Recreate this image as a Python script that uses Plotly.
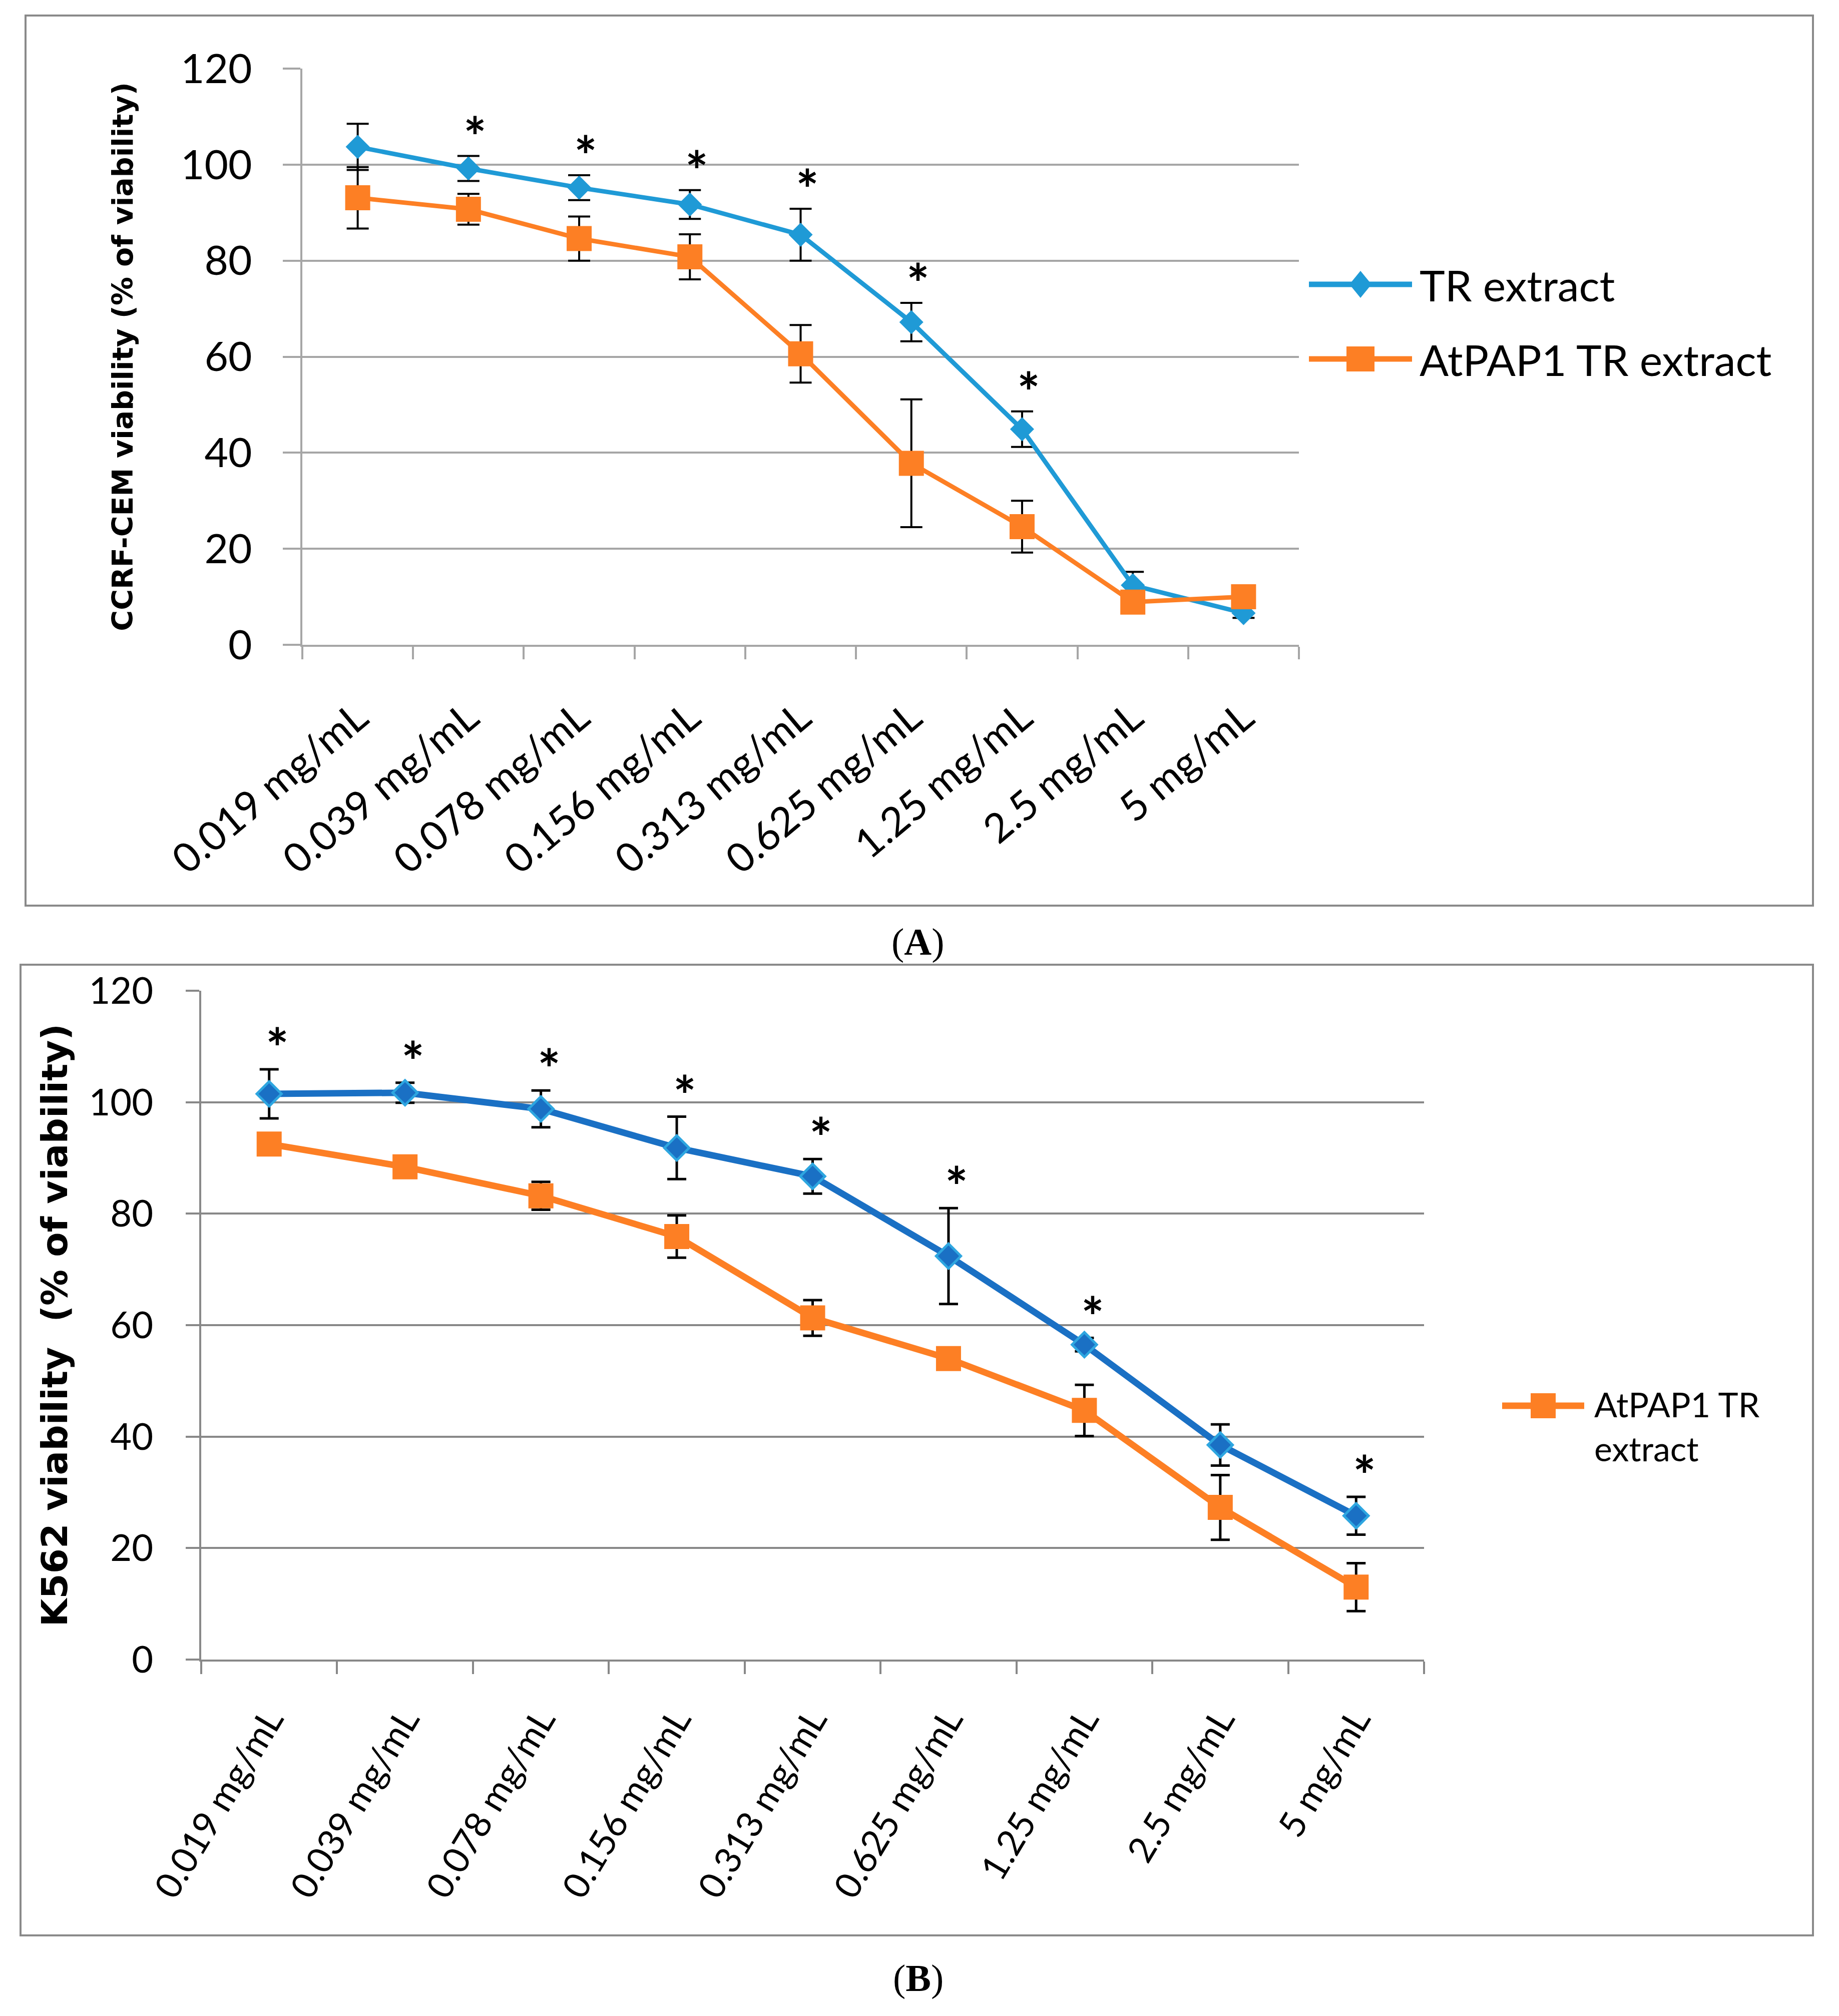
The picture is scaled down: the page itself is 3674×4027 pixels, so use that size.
import plotly.graph_objects as go

# ---------------- data ----------------
concentrations = ["0.019 mg/mL", "0.039 mg/mL", "0.078 mg/mL", "0.156 mg/mL",
                  "0.313 mg/mL", "0.625 mg/mL", "1.25 mg/mL", "2.5 mg/mL", "5 mg/mL"]

# Panel A: CCRF-CEM
tr_a = [103.7, 99.2, 95.2, 91.7, 85.4, 67.2, 44.9, 12.4, 6.6]
tr_a_err = [4.8, 2.6, 2.6, 3.0, 5.4, 4.0, 3.7, 2.8, 1.0]
at_a = [93.1, 90.7, 84.6, 80.8, 60.6, 37.8, 24.6, 8.9, 10.0]
at_a_err = [6.4, 3.2, 4.6, 4.7, 6.0, 13.3, 5.4, 1.5, 1.5]
sig_a = [False, True, True, True, True, True, True, False, False]

# Panel B: K562
tr_b = [101.5, 101.7, 98.8, 91.8, 86.7, 72.4, 56.5, 38.5, 25.8]
tr_b_err = [4.4, 1.8, 3.3, 5.6, 3.1, 8.6, 1.2, 3.7, 3.4]
at_b = [92.5, 88.4, 83.2, 75.9, 61.3, 54.0, 44.7, 27.3, 13.0]
at_b_err = [1.5, 1.5, 2.5, 3.8, 3.2, 1.5, 4.6, 5.8, 4.3]
sig_b = [True, True, True, True, True, True, True, False, True]

series_names = ["TR extract", "AtPAP1 TR extract"]
title_a = "CCRF-CEM viability (% of viability)"
title_b = "K562 viability  (% of viability)"

# ---------------- styling ----------------
W, H, OFF = 3658, 4011, 8


def fx(X):
    return (X - OFF) / W


def fy(Y):
    return 1 - (Y - OFF) / H


BLUE_A = "#1F9AD6"
BLUE_B = "#1A70C4"
BLUE_B_EDGE = "#2EA6E0"
ORANGE = "#FD7F24"
GRID_A = "#A6A6A6"
GRID_B = "#888888"
TICKFONT = "Lato"
TITLEFONT = "DejaVu Sans"
N = len(concentrations)

fig = go.Figure()

# Panel A traces
fig.add_trace(go.Scatter(
    x=concentrations, y=tr_a, name=series_names[0], mode="lines+markers",
    line=dict(color=BLUE_A, width=9),
    marker=dict(symbol="diamond", size=37, color=BLUE_A),
    error_y=dict(type="data", array=tr_a_err, visible=True, color="black", thickness=4, width=22),
    xaxis="x", yaxis="y", showlegend=False))
fig.add_trace(go.Scatter(
    x=concentrations, y=at_a, name=series_names[1], mode="lines+markers",
    line=dict(color=ORANGE, width=9),
    marker=dict(symbol="square", size=50, color=ORANGE),
    error_y=dict(type="data", array=at_a_err, visible=True, color="black", thickness=4, width=22),
    xaxis="x", yaxis="y", showlegend=False))

# Panel B traces
fig.add_trace(go.Scatter(
    x=concentrations, y=tr_b, name=series_names[0], mode="lines+markers",
    line=dict(color=BLUE_B, width=13),
    marker=dict(symbol="diamond", size=38, color=BLUE_B, line=dict(color=BLUE_B_EDGE, width=5)),
    error_y=dict(type="data", array=tr_b_err, visible=True, color="black", thickness=5, width=19),
    xaxis="x2", yaxis="y2", showlegend=False))
fig.add_trace(go.Scatter(
    x=concentrations, y=at_b, name=series_names[1], mode="lines+markers",
    line=dict(color=ORANGE, width=13),
    marker=dict(symbol="square", size=50, color=ORANGE),
    error_y=dict(type="data", array=at_b_err, visible=True, color="black", thickness=5, width=19),
    xaxis="x2", yaxis="y2", showlegend=False))

annotations = []
# significance asterisks
for i, s in enumerate(sig_a):
    if s:
        annotations.append(dict(x=i + 0.06, y=tr_a[i] + tr_a_err[i], xref="x", yref="y",
                                text="*", showarrow=False, yanchor="bottom", yshift=-26,
                                font=dict(family=TICKFONT, size=108, color="black", weight="bold")))
for i, s in enumerate(sig_b):
    if s:
        annotations.append(dict(x=i + 0.06, y=tr_b[i] + tr_b_err[i], xref="x2", yref="y2",
                                text="*", showarrow=False, yanchor="bottom", yshift=-22,
                                font=dict(family=TICKFONT, size=108, color="black", weight="bold")))

# legend A (drawn manually so that symbols scale with the figure)
shapes = []
legA = [(568, BLUE_A, "diamond", series_names[0]), (717, ORANGE, "square", series_names[1])]
for yy, col, sym, name in legA:
    shapes.append(dict(type="line", xref="paper", yref="paper",
                       x0=fx(2615), x1=fx(2821), y0=fy(yy), y1=fy(yy),
                       line=dict(color=col, width=11)))
    cx, cy = 2718, yy
    if sym == "diamond":
        path = "M {} {} L {} {} L {} {} L {} {} Z".format(
            fx(cx - 22), fy(cy), fx(cx), fy(cy - 27), fx(cx + 22), fy(cy), fx(cx), fy(cy + 27))
        shapes.append(dict(type="path", xref="paper", yref="paper", path=path,
                           fillcolor=col, line=dict(width=0)))
    else:
        shapes.append(dict(type="rect", xref="paper", yref="paper",
                           x0=fx(cx - 28), x1=fx(cx + 28), y0=fy(cy + 25), y1=fy(cy - 25),
                           fillcolor=col, line=dict(width=0)))
    annotations.append(dict(x=fx(2834), y=fy(yy), xref="paper", yref="paper", text=name,
                            showarrow=False, xanchor="left", yanchor="middle",
                            font=dict(family=TICKFONT, size=86, color="black")))

# legend B (only the AtPAP1 series is listed in the original)
shapes.append(dict(type="line", xref="paper", yref="paper",
                   x0=fx(3001), x1=fx(3165), y0=fy(2808), y1=fy(2808),
                   line=dict(color=ORANGE, width=13)))
shapes.append(dict(type="rect", xref="paper", yref="paper",
                   x0=fx(3083 - 25), x1=fx(3083 + 25), y0=fy(2808 + 25), y1=fy(2808 - 25),
                   fillcolor=ORANGE, line=dict(width=0)))
annotations.append(dict(x=fx(3183), y=fy(2762), xref="paper", yref="paper",
                        text="AtPAP1 TR<br>extract", showarrow=False, xanchor="left",
                        yanchor="top", align="left",
                        font=dict(family=TICKFONT, size=68, color="black")))

# panel frames
shapes.append(dict(type="rect", xref="paper", yref="paper",
                   x0=fx(51), x1=fx(3622), y0=fy(1809), y1=fy(31),
                   line=dict(color="#8A8A8A", width=4)))
shapes.append(dict(type="rect", xref="paper", yref="paper",
                   x0=fx(41), x1=fx(3622), y0=fy(3866), y1=fy(1927),
                   line=dict(color="#8A8A8A", width=4)))

# panel labels
annotations.append(dict(x=fx(1834), y=fy(1881), xref="paper", yref="paper", text="(<b>A</b>)",
                        showarrow=False, xanchor="center", yanchor="middle",
                        font=dict(family="Liberation Serif", size=76, color="black")))
annotations.append(dict(x=fx(1834), y=fy(3951), xref="paper", yref="paper", text="(<b>B</b>)",
                        showarrow=False, xanchor="center", yanchor="middle",
                        font=dict(family="Liberation Serif", size=76, color="black")))


def xaxis_cfg(domain, anchor, grid, angle, size, standoff):
    return dict(domain=domain, anchor=anchor, type="category", tickson="boundaries",
                range=[-0.5, N - 0.5],
                ticks="outside", ticklen=25, tickwidth=4, tickcolor=grid,
                showline=True, linecolor=grid, linewidth=4, showgrid=False,
                tickangle=angle, tickfont=dict(family=TICKFONT, size=size, color="black"),
                ticklabelstandoff=standoff, zeroline=False, automargin=False)


def yaxis_cfg(domain, anchor, grid, ticklen, size, title, tsize, tstand, lstand):
    return dict(domain=domain, anchor=anchor, range=[0, 120], tick0=0, dtick=20,
                showgrid=True, gridcolor=grid, gridwidth=4, showline=True,
                linecolor=grid, linewidth=4, ticks="outside", ticklen=ticklen,
                tickwidth=4, tickcolor=grid, zeroline=False, automargin=False,
                tickfont=dict(family=TICKFONT, size=size, color="black"),
                ticklabelstandoff=lstand,
                title=dict(text=title, standoff=tstand,
                           font=dict(family=TITLEFONT, size=tsize, color="black", weight="bold")))


fig.update_layout(
    width=W, height=H, margin=dict(l=0, r=0, t=0, b=0, autoexpand=False),
    paper_bgcolor="white", plot_bgcolor="white", showlegend=False,
    xaxis=xaxis_cfg([fx(604), fx(2595)], "y", GRID_A, -40, 81, 62),
    yaxis=yaxis_cfg([fy(1288), fy(137)], "x", GRID_A, 35, 82, title_a, 57, 78, 45),
    xaxis2=xaxis_cfg([fx(402), fx(2845)], "y2", GRID_B, -59, 72, 45),
    yaxis2=yaxis_cfg([fy(3315), fy(1979)], "x2", GRID_B, 27, 74, title_b, 72, 20, 50),
    shapes=shapes, annotations=annotations,
)

fig.write_html("out.html")
